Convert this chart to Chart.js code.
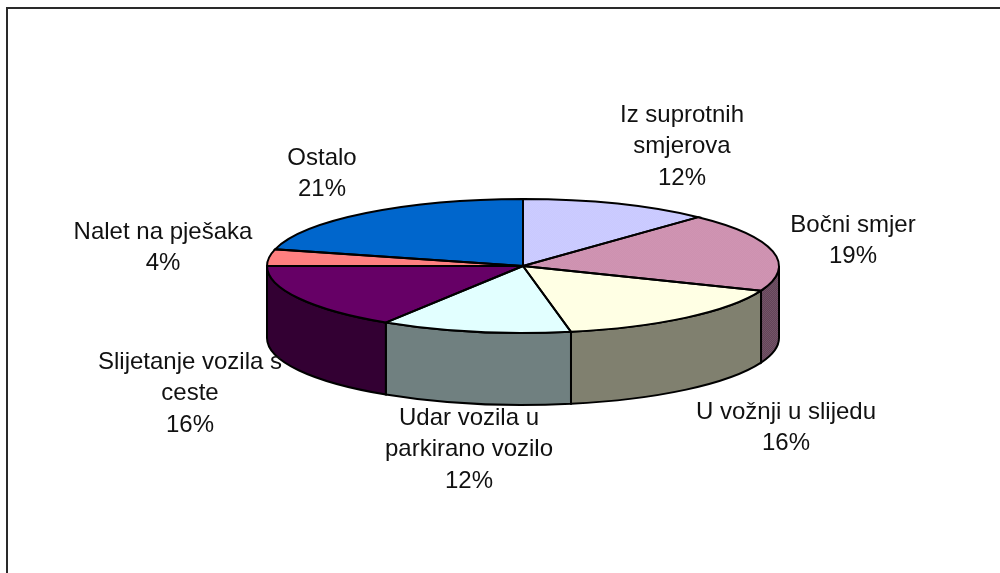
<!DOCTYPE html>
<html>
<head>
<meta charset="utf-8">
<script src="https://cdn.jsdelivr.net/npm/chart.js@4/dist/chart.umd.min.js"></script>
<style>
  html, body { margin: 0; background: #fff; }
  canvas { display: block; }
</style>
</head>
<body>
<canvas id="pie" width="1000" height="573"></canvas>
<script>
const categories = [
  ["Iz suprotnih", "smjerova"],
  ["Bočni smjer"],
  ["U vožnji u slijedu"],
  ["Udar vozila u", "parkirano vozilo"],
  ["Slijetanje vozila s", "ceste"],
  ["Nalet na pješaka"],
  ["Ostalo"]
];
const percents = [12, 19, 16, 12, 16, 4, 21];

// top colours, two entries = dithered like the original
const topColors = [["#c2c2ff", "#d4d4ff"], ["#c586a6", "#d9a0bd"], ["#ffffe4"], ["#e2ffff"], ["#660066"], ["#ff8080"], ["#0066cc"]];
const wallColors = [["#62627f"], ["#624458", "#745468"], ["#80806f"], ["#708080"], ["#330033"], ["#804040"], ["#003366"]];

// centre of each label block
const labelCenters = [[682, 115], [853, 225], [786, 412], [469, 418], [190, 362], [163, 232], [322, 158]];
const lineHeight = 31.6;

const squash = 67 / 256;
const depth = 72;
const centerY = 266;

function dither(colors, yScale) {
  if (colors.length === 1) return colors[0];
  const c = document.createElement("canvas");
  c.width = c.height = 2;
  const g = c.getContext("2d");
  g.fillStyle = colors[0];
  g.fillRect(0, 0, 2, 2);
  g.fillStyle = colors[1];
  g.fillRect(0, 0, 1, 1);
  g.fillRect(1, 1, 1, 1);
  const p = g.createPattern(c, "repeat");
  // pie tops are filled under the squash transform, keep the dots square
  if (yScale) p.setTransform(new DOMMatrix().scale(1, yScale));
  return p;
}

const pie3d = {
  id: "pie3d",
  beforeDraw(chart) {
    const ctx = chart.ctx;
    ctx.fillStyle = "#2a2a2a";
    ctx.fillRect(6, 7, 994, 2);
    ctx.fillRect(6, 7, 2, 566);
  },
  beforeDatasetDraw(chart) {
    const ctx = chart.ctx;
    const arcs = chart.getDatasetMeta(0).data;
    ctx.lineWidth = 2;
    ctx.strokeStyle = "#000";
    // side wall, only the front half shows
    arcs.forEach((arc, i) => {
      const a0 = Math.max(arc.startAngle, 0);
      const a1 = Math.min(arc.endAngle, Math.PI);
      if (a1 <= a0) return;
      const rx = arc.outerRadius, ry = rx * squash;
      ctx.beginPath();
      ctx.ellipse(arc.x, centerY, rx, ry, 0, a0, a1);
      ctx.ellipse(arc.x, centerY + depth, rx, ry, 0, a1, a0, true);
      ctx.closePath();
      ctx.fillStyle = dither(wallColors[i]);
      ctx.fill();
      ctx.stroke();
    });
    ctx.save();
    ctx.translate(0, centerY);
    ctx.scale(1, squash);
    ctx.translate(0, -arcs[0].y);
  },
  afterDatasetDraw(chart) {
    const ctx = chart.ctx;
    ctx.restore();
    const arcs = chart.getDatasetMeta(0).data;
    ctx.lineWidth = 2;
    ctx.strokeStyle = "#000";
    arcs.forEach(arc => {
      const rx = arc.outerRadius, ry = rx * squash;
      ctx.beginPath();
      ctx.moveTo(arc.x, centerY);
      ctx.ellipse(arc.x, centerY, rx, ry, 0, arc.startAngle, arc.endAngle);
      ctx.closePath();
      ctx.stroke();
    });
  },
  afterDraw(chart) {
    const ctx = chart.ctx;
    ctx.fillStyle = "#111";
    ctx.font = "24px 'Liberation Sans'";
    ctx.textAlign = "center";
    ctx.textBaseline = "middle";
    categories.forEach((lines, i) => {
      const [x, y] = labelCenters[i];
      [...lines, percents[i] + "%"].forEach((t, n) => {
        ctx.fillText(t, x, y + n * lineHeight);
      });
    });
  }
};

new Chart(document.getElementById("pie"), {
  type: "pie",
  data: {
    labels: categories.map(l => l.join(" ")),
    datasets: [{
      data: percents,
      backgroundColor: topColors.map(c => dither(c, 1 / squash)),
      borderWidth: 0,
      clip: false
    }]
  },
  options: {
    responsive: false,
    animation: false,
    radius: 256,
    layout: { padding: { left: 46, bottom: 41 } },
    plugins: { legend: { display: false }, tooltip: { enabled: false } }
  },
  plugins: [pie3d]
});
</script>
</body>
</html>
